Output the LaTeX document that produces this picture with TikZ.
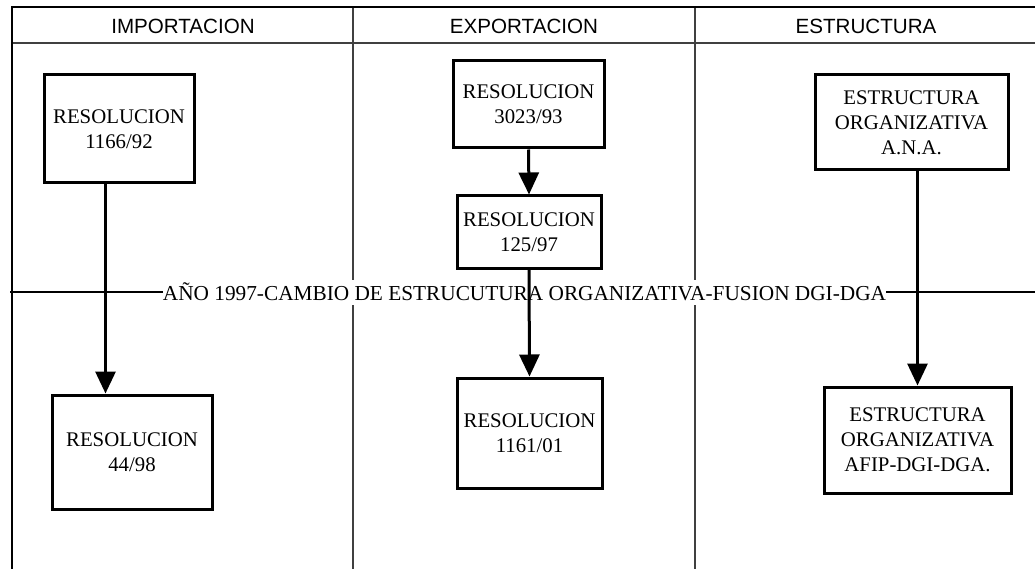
\documentclass[tikz,border=0pt]{standalone}
\usepackage{fontspec}
\setmainfont{Liberation Serif}
\newfontfamily\cabfont{Liberation Sans}
\usetikzlibrary{arrows.meta}
\newlength{\du}
\setlength{\du}{1pt}
\definecolor{dialinecolor}{rgb}{0.250000, 0.250000, 0.250000}
\tikzset{
  caja/.style={draw, line width=3\du, fill=white, align=center, inner sep=0pt,
    font=\fontsize{20.8}{25}\selectfont},
  flecha/.style={line width=3\du, -{Triangle[width=20pt,length=22pt]}},
  marco/.style={line width=2.2\du},
  fina/.style={line width=1.1\du, draw=dialinecolor},
  cabecera/.style={font=\cabfont\fontsize{20.6}{25}\selectfont},
}

\begin{document}
\begin{tikzpicture}
\pgftransformxscale{1.000000}
\pgftransformyscale{-1.000000}
\useasboundingbox (0\du,0\du) rectangle (1035\du,569\du);
% columnas y marco
\draw[fina] (353\du,7\du)--(353\du,575\du);
\draw[fina] (695\du,7\du)--(695\du,575\du);
\draw[fina] (12\du,43\du)--(1040\du,43\du);
\draw[marco] (12\du,575\du)--(12\du,7\du)--(1040\du,7\du);
% cabeceras
\node[cabecera] (importacion) at (183\du,26\du){IMPORTACION};
\node[cabecera] (exportacion) at (524\du,26\du){EXPORTACION};
\node[cabecera] (estructura) at (866\du,26\du){ESTRUCTURA};
% linea del cambio 1997
\node[fill=white, inner sep=0pt, minimum height=25\du, font=\fontsize{21.3}{25}\selectfont] (cambio) at (524.5\du,292\du){AÑO 1997-CAMBIO DE ESTRUCUTURA ORGANIZATIVA-FUSION DGI-DGA};
\coordinate (lineaI) at (10\du,292\du);
\coordinate (lineaD) at (1040\du,292\du);
\draw[marco] (lineaI)--(cambio.west);
\draw[marco] (cambio.east)--(lineaD);
% importacion
\node[caja, minimum width=150\du, minimum height=108\du] (r1166) at (119\du,129\du){RESOLUCION\\1166/92};
\node[caja, minimum width=160\du, minimum height=114\du] (r4498) at (132\du,452\du){RESOLUCION\\44/98};
% exportacion
\node[caja, minimum width=151\du, minimum height=87\du] (r3023) at (528.5\du,104.5\du){RESOLUCION\\3023/93};
\node[caja, minimum width=144\du, minimum height=72\du] (r12597) at (529\du,232\du){RESOLUCION\\125/97};
\node[caja, minimum width=145\du, minimum height=110\du] (r116101) at (529.5\du,433\du){RESOLUCION\\1161/01};
% estructura
\node[caja, minimum width=193\du, minimum height=95\du] (ana) at (911.5\du,122.5\du){ESTRUCTURA\\ORGANIZATIVA\\A.N.A.};
\node[caja, minimum width=187\du, minimum height=106\du] (afip) at (917.5\du,440\du){ESTRUCTURA\\ORGANIZATIVA\\AFIP-DGI-DGA.};
% flechas
\coordinate (f1) at ([xshift=63\du]r1166.south west);
\draw[flecha] (f1)--(f1 |- r4498.north);
\draw[flecha] (r3023.south)--(r12597.north);
\draw[flecha] (r12597.south)--(r116101.north);
\draw[flecha] (afip.north |- ana.south)--(afip.north);
\end{tikzpicture}
\end{document}
